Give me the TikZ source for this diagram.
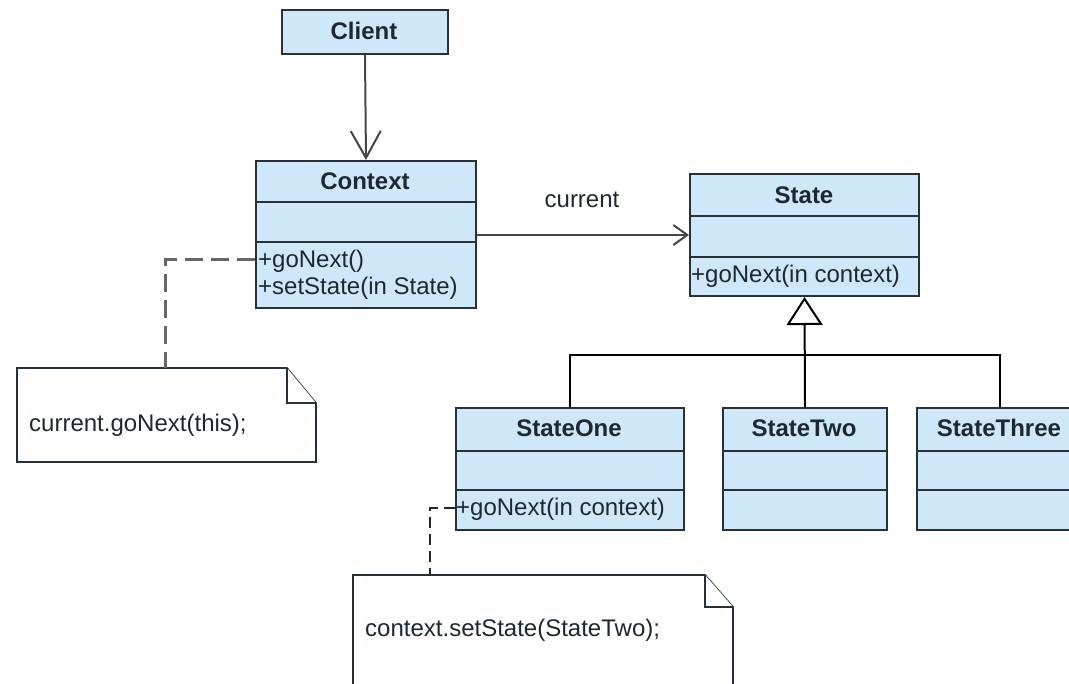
\documentclass[tikz,border=0pt]{standalone}
\usepackage{fontspec}
\setmainfont{Liberation Sans}
\usetikzlibrary{arrows.meta}
\definecolor{clsfill}{RGB}{206,232,250}
\definecolor{clsline}{RGB}{40,48,56}
\definecolor{txt}{RGB}{30,40,50}
\definecolor{conn}{RGB}{70,70,70}
\tikzset{
  cls/.style={draw=clsline, fill=clsfill, line width=2pt, rectangle, inner sep=0pt, anchor=north west},
  ttl/.style={font=\fontsize{24}{28}\selectfont\bfseries, text=txt, inner sep=0pt},
  op/.style={font=\fontsize{24}{28}\selectfont, text=txt, inner sep=0pt, anchor=west},
  sep/.style={draw=clsline, line width=2pt},
  notebox/.style={draw=clsline, fill=white, line width=1.6pt},
  conline/.style={draw=conn, line width=2pt},
  notetxt/.style={font=\fontsize{24}{28}\selectfont, text=txt, inner sep=0pt, anchor=west},
}
\begin{document}
\begin{tikzpicture}[x=1pt,y=-1pt]
\useasboundingbox (0,0) rectangle (1069,684);
% Client
\node[cls, minimum width=166pt, minimum height=44pt] (client) at (281,9) {};
\node[ttl] (clientT) at (364,31) {Client};
% Context
\node[cls, minimum width=220pt, minimum height=147pt] (context) at (255,160) {};
\draw[sep] (255,202) -- (475,202);
\draw[sep] (255,242) -- (475,242);
\node[ttl] (contextT) at (365,181) {Context};
\node[op] (ctxop1) at (258,261) {+goNext()};
\node[op] (ctxop2) at (258,288) {+setState(in State)};
% State
\node[cls, minimum width=229pt, minimum height=122pt] (state) at (689,173) {};
\draw[sep] (689,216) -- (918,216);
\draw[sep] (689,257) -- (918,257);
\node[ttl] (stateT) at (804,195) {State};
\node[op] (stop) at (691,276) {+goNext(in context)};
% StateOne
\node[cls, minimum width=228pt, minimum height=122pt] (s1) at (455,407) {};
\draw[sep] (455,451) -- (683,451);
\draw[sep] (455,490) -- (683,490);
\node[ttl] (s1T) at (569,428) {StateOne};
\node[op] (s1op) at (456,509) {+goNext(in context)};
% StateTwo
\node[cls, minimum width=164pt, minimum height=122pt] (s2) at (722,407) {};
\draw[sep] (722,451) -- (886,451);
\draw[sep] (722,490) -- (886,490);
\node[ttl] (s2T) at (804,428) {StateTwo};
% StateThree
\node[cls, minimum width=166pt, minimum height=122pt] (s3) at (916,407) {};
\draw[sep] (916,451) -- (1082,451);
\draw[sep] (916,490) -- (1082,490);
\node[ttl] (s3T) at (999,428) {StateThree};
% Notes
\draw[notebox] (17,368) -- (287,368) -- (316,403) -- (316,462) -- (17,462) -- cycle;
\draw[notebox] (287,368) -- (287,403) -- (316,403);
\node[notetxt] (note1) at (29,425) {current.goNext(this);};
\draw[notebox] (353,575) -- (705,575) -- (733,607) -- (733,700) -- (353,700) -- cycle;
\draw[notebox] (705,575) -- (705,607) -- (733,607);
\node[notetxt] (note2) at (365,630) {context.setState(StateTwo);};
\coordinate (n1top) at (165,368);
\coordinate (n2top) at (430,575);
% connectors
\draw[conline, -{Straight Barb[length=27pt,width=30pt,line width=2pt]}] (client.south) -- (context.north);
\draw[conline, -{Straight Barb[length=14pt,width=20pt,line width=2pt]}] (context.east |- 0,235) -- (state.west |- 0,235);
\node[op, anchor=center] (curlbl) at (582,200) {current};
\coordinate (bus) at (804,355);
\draw[conline, draw=black] (s1.north) |- (bus) -| (s3.north);
\draw[conline, draw=black, -{Triangle[open,length=28pt,width=36pt,line width=2pt,fill=white]}] (s2.north) -- (state.south);
\draw[draw=gray!80!black, line width=3pt, dash pattern=on 18pt off 8pt] (context.west |- 0,260) -| (n1top);
\draw[draw=black!85, line width=2pt, dash pattern=on 11pt off 6pt] (s1.west |- 0,508) -| (n2top);
\end{tikzpicture}
\end{document}
